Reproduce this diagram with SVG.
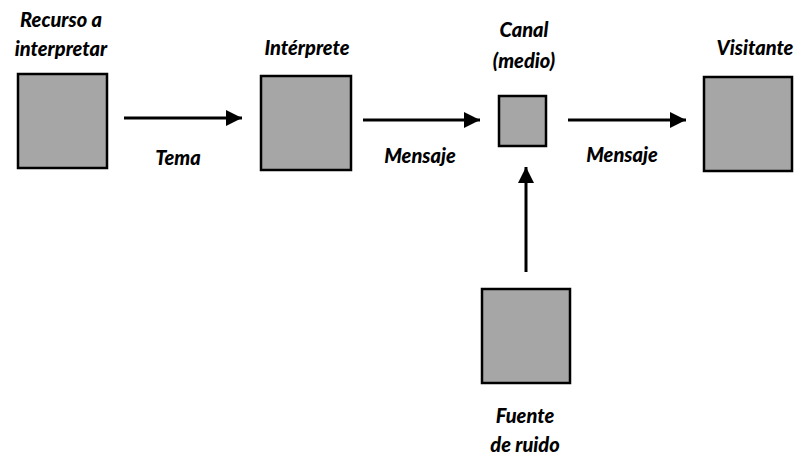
<svg xmlns="http://www.w3.org/2000/svg" width="796" height="456" viewBox="0 0 796 456">
  <style>
    .box { fill: #a6a6a6; stroke: #000; stroke-width: 2.5; }
    .lbl { font-family: Lato, "Open Sans", "Liberation Sans", sans-serif; font-weight: 900; font-style: italic; font-size: 20px; fill: #000; text-anchor: middle; }
    .edge { stroke: #000; stroke-width: 3; fill: none; }
  </style>
  <defs>
    <marker id="arrow" viewBox="0 0 16 16" refX="16" refY="8" markerWidth="16" markerHeight="16" markerUnits="userSpaceOnUse" orient="auto">
      <path d="M0,0 L16,8 L0,16 Z" fill="#000"/>
    </marker>
  </defs>

  <rect width="796" height="456" fill="#fff"/>

  <g id="recurso">
    <rect class="box" x="18" y="74" width="89" height="94"/>
    <text class="lbl" x="61" y="27">Recurso a</text>
    <text class="lbl" x="61" y="56">interpretar</text>
  </g>

  <g id="interprete">
    <rect class="box" x="261" y="76" width="90" height="94"/>
    <text class="lbl" x="307" y="55">Intérprete</text>
  </g>

  <g id="canal">
    <rect class="box" x="499" y="96" width="47" height="50"/>
    <text class="lbl" x="524" y="37">Canal</text>
    <text class="lbl" x="524" y="68">(medio)</text>
  </g>

  <g id="visitante">
    <rect class="box" x="704" y="77" width="88" height="94"/>
    <text class="lbl" x="755" y="55">Visitante</text>
  </g>

  <g id="fuente">
    <rect class="box" x="482" y="289" width="88" height="94"/>
    <text class="lbl" x="525" y="423">Fuente</text>
    <text class="lbl" x="525" y="452">de ruido</text>
  </g>

  <g id="connectors">
    <line class="edge" x1="124" y1="118" x2="242" y2="118" marker-end="url(#arrow)"/>
    <text class="lbl" x="178" y="165">Tema</text>
    <line class="edge" x1="363" y1="120" x2="480" y2="120" marker-end="url(#arrow)"/>
    <text class="lbl" x="420" y="163">Mensaje</text>
    <line class="edge" x1="568" y1="120" x2="686" y2="120" marker-end="url(#arrow)"/>
    <text class="lbl" x="622" y="162">Mensaje</text>
    <line class="edge" x1="526" y1="272" x2="526" y2="167" marker-end="url(#arrow)"/>
  </g>
</svg>
